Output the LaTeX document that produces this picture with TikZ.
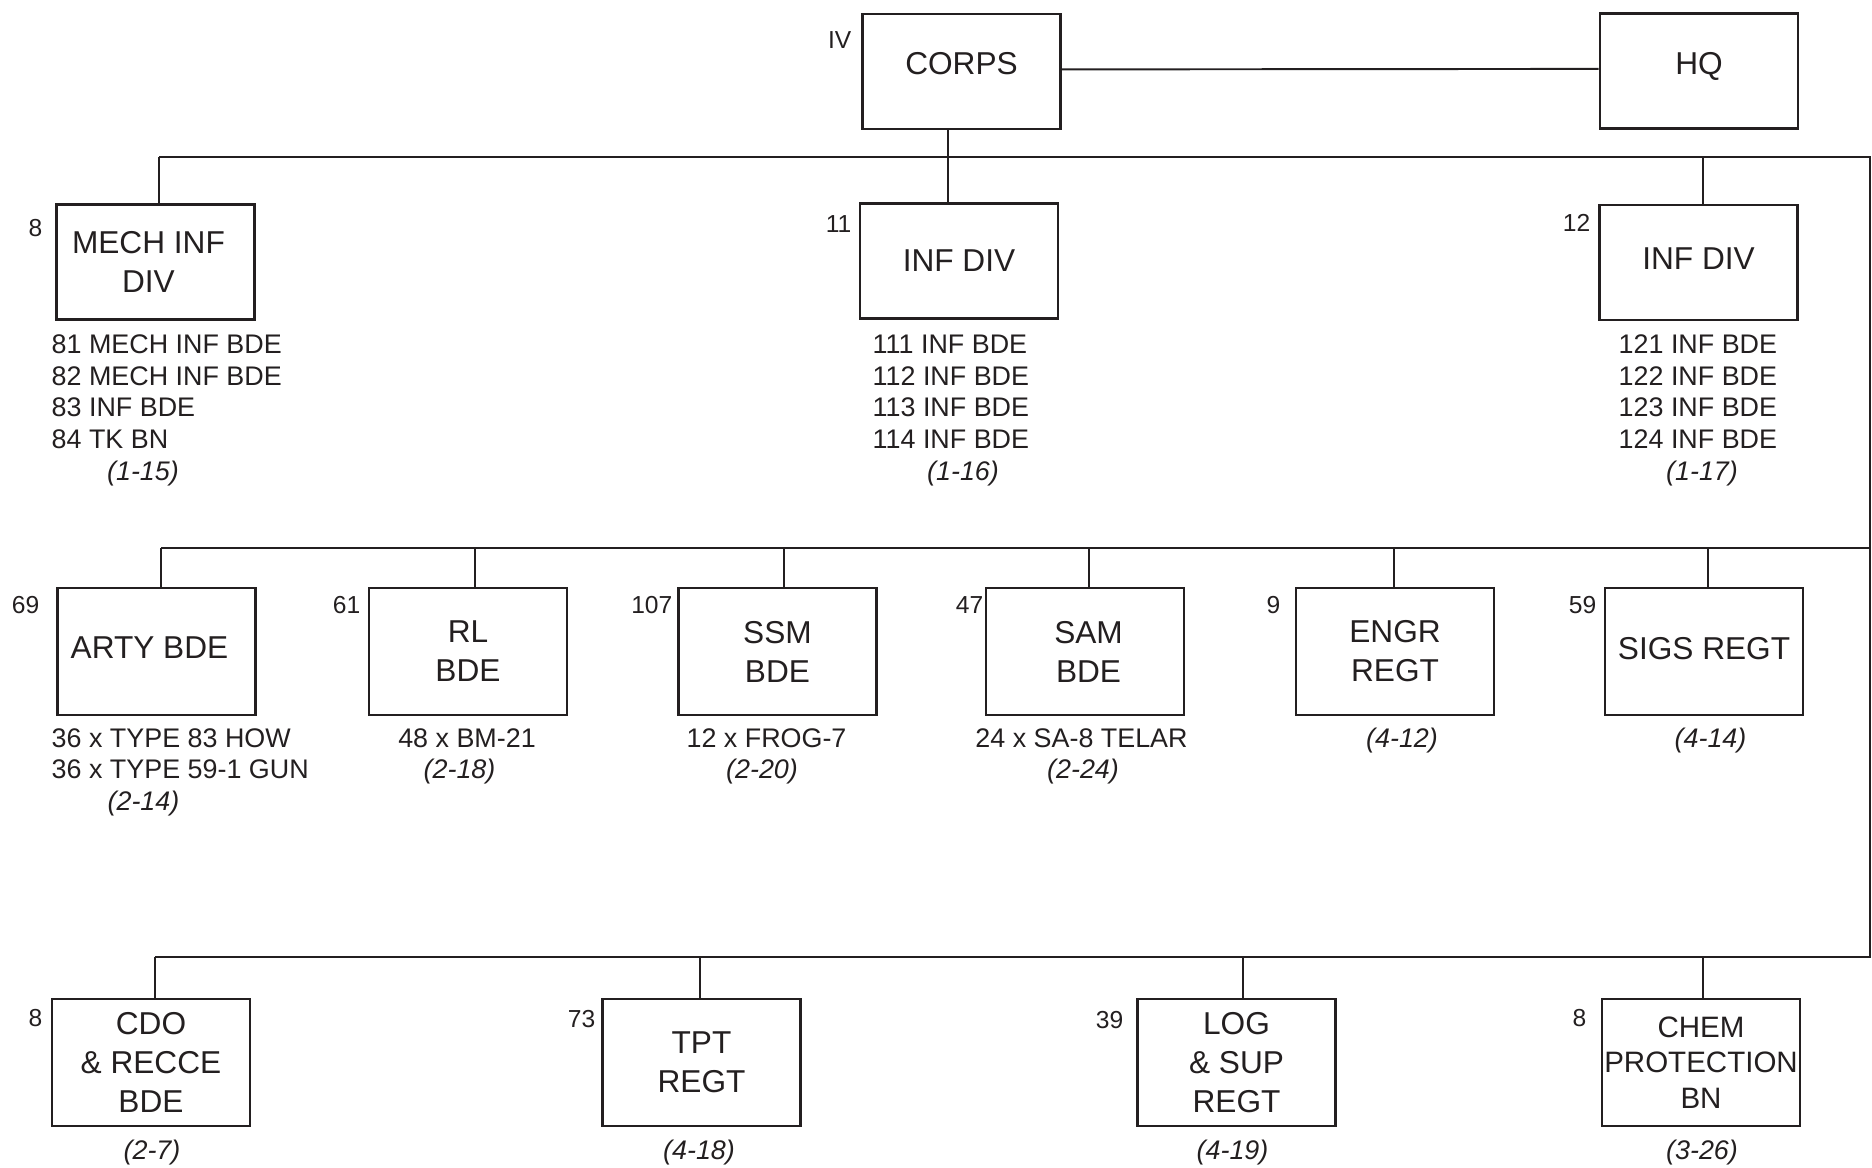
\documentclass[tikz,border=0pt]{standalone}
\usepackage{fontspec}
\setmainfont{Liberation Sans}
\definecolor{ink}{RGB}{35,31,32}
\newcommand{\padR}{\rule{4pt}{0pt}}
\newcommand{\padL}{\rule{2pt}{0pt}}
\begin{document}
\begin{tikzpicture}[x=0.1mm,y=-0.1mm,
  box/.style={draw=ink,line width=0.75pt,inner sep=0pt,minimum width=19.8mm,minimum height=12.7mm,align=center,text=ink,font=\fontsize{9}{11.1}\selectfont},
  boxtop/.style={box,minimum height=11.5mm},
  one/.style={text depth=2pt},
  onehi/.style={text depth=4.3pt},
  num/.style={anchor=east,inner sep=0pt,text=ink,font=\fontsize{7}{8}\selectfont},
  lst/.style={anchor=north west,inner sep=0pt,align=left,text=ink,font=\fontsize{7.65}{8.96}\selectfont},
  lstc/.style={anchor=base,inner sep=0pt,text=ink,font=\fontsize{7.65}{8.96}\selectfont},
  ref/.style={anchor=base,inner sep=0pt,text=ink,font=\fontsize{7.65}{8.96}\selectfont\itshape},
  wire/.style={draw=ink,line width=0.55pt,line join=miter}]
\useasboundingbox (0,0) rectangle (1872,1167);

% ---- top level
\node[boxtop,onehi] (corps) at (961.5,71.5) {CORPS};
\node[boxtop,onehi] (hq) at (1699,71) {HQ};
\node[num] (ncorps) at (852,40) {IV};

% ---- divisions
\node[boxtop] (mech) at (155.5,262) {MECH INF\padR\\DIV\padR};
\node[boxtop] (d11) at (959,261) {INF DIV};
\node[boxtop,one] (d12) at (1698.5,262.5) {INF DIV};
\node[num] (nmech) at (43,228) {8};
\node[num] (nd11) at (852,224) {11};
\node[num] (nd12) at (1591,223) {12};

\node[lst] (lmech) at (51,334.5) {81 MECH INF BDE\\82 MECH INF BDE\\83 INF BDE\\84 TK BN};
\node[lst] (ld11) at (872,334.5) {111 INF BDE\\112 INF BDE\\113 INF BDE\\114 INF BDE};
\node[lst] (ld12) at (1618,334.5) {121 INF BDE\\122 INF BDE\\123 INF BDE\\124 INF BDE};
\node[ref] (rmech) at (143,480) {(1-15)};
\node[ref] (rd11) at (963,480) {(1-16)};
\node[ref] (rd12) at (1702,480) {(1-17)};

% ---- second row
\node[box,one] (arty) at (156.5,651.5) {ARTY BDE\padR};
\node[box] (rl) at (468,651.5) {RL\\BDE};
\node[box] (ssm) at (777.5,651.5) {SSM\\BDE};
\node[box] (sam) at (1085,651.5) {\padL SAM\\\padL BDE};
\node[box] (engr) at (1395,651.5) {ENGR\\REGT};
\node[box,one] (sigs) at (1704,651.5) {SIGS REGT};
\node[num] (narty) at (40,605) {69};
\node[num] (nrl) at (361,605) {61};
\node[num] (nssm) at (673,605) {107};
\node[num] (nsam) at (984,605) {47};
\node[num] (nengr) at (1281,605) {9};
\node[num] (nsigs) at (1597,605) {59};

\node[lst] (larty) at (51,728) {36 x TYPE 83 HOW\\36 x TYPE 59-1 GUN};
\node[lstc] (lrl) at (467,747) {48 x BM-21};
\node[lstc] (lssm) at (766.5,747) {12 x FROG-7};
\node[lstc] (lsam) at (1081.5,747) {24 x SA-8 TELAR};
\node[ref] (rarty) at (143.5,810) {(2-14)};
\node[ref] (rrl) at (459.5,778.5) {(2-18)};
\node[ref] (rssm) at (762,778.5) {(2-20)};
\node[ref] (rsam) at (1083,778.5) {(2-24)};
\node[ref] (rengr) at (1402,747) {(4-12)};
\node[ref] (rsigs) at (1710.5,747) {(4-14)};

% ---- third row
\node[box] (cdo) at (151,1062.5) {CDO\\\&~RECCE\\BDE};
\node[box] (tpt) at (701.5,1062.5) {TPT\\REGT};
\node[box] (log) at (1236.5,1062.5) {LOG\\\&~SUP\\REGT};
\node[box,font=\fontsize{8.4}{10.1}\selectfont] (chem) at (1701,1062.5) {CHEM\\PROTECTION\\BN};
\node[num] (ncdo) at (43,1018) {8};
\node[num] (ntpt) at (596,1019) {73};
\node[num] (nlog) at (1124,1020) {39};
\node[num] (nchem) at (1587,1018) {8};
\node[ref] (rcdo) at (152,1159) {(2-7)};
\node[ref] (rtpt) at (699,1159) {(4-18)};
\node[ref] (rlog) at (1232.5,1159) {(4-19)};
\node[ref] (rchem) at (1702,1159) {(3-26)};

% ---- bus coordinates
\coordinate (b1L) at (159,157);
\coordinate (b1R) at (1870,157);
\coordinate (b2L) at (161,548);
\coordinate (b2R) at (1870,548);
\coordinate (b3L) at (155,957);
\coordinate (b3R) at (1870,957);
\coordinate (vc) at (948,157);
\coordinate (j12) at (1703,157);
\coordinate (jrl) at (475,548);
\coordinate (jssm) at (784,548);
\coordinate (jsam) at (1089,548);
\coordinate (jengr) at (1394,548);
\coordinate (jsigs) at (1708,548);
\coordinate (jtpt) at (700,957);
\coordinate (jlog) at (1243,957);
\coordinate (jchem) at (1703,957);

% ---- connectors
\draw[wire] ([yshift=0.6pt]corps.east) -- ([yshift=0.6pt]hq.west);
\draw[wire] (vc |- corps.south) -- (vc |- d11.north);
\draw[wire] (b1L) -- (b1R) -- (b3R) -- (b3L);
\draw[wire] (b2L) -- (b2R);
\draw[wire] (b1L) -- (b1L |- mech.north);
\draw[wire] (j12) -- (j12 |- d12.north);
\draw[wire] (b2L) -- (b2L |- arty.north);
\draw[wire] (jrl) -- (jrl |- rl.north);
\draw[wire] (jssm) -- (jssm |- ssm.north);
\draw[wire] (jsam) -- (jsam |- sam.north);
\draw[wire] (jengr) -- (jengr |- engr.north);
\draw[wire] (jsigs) -- (jsigs |- sigs.north);
\draw[wire] (b3L) -- (b3L |- cdo.north);
\draw[wire] (jtpt) -- (jtpt |- tpt.north);
\draw[wire] (jlog) -- (jlog |- log.north);
\draw[wire] (jchem) -- (jchem |- chem.north);
\end{tikzpicture}
\end{document}
